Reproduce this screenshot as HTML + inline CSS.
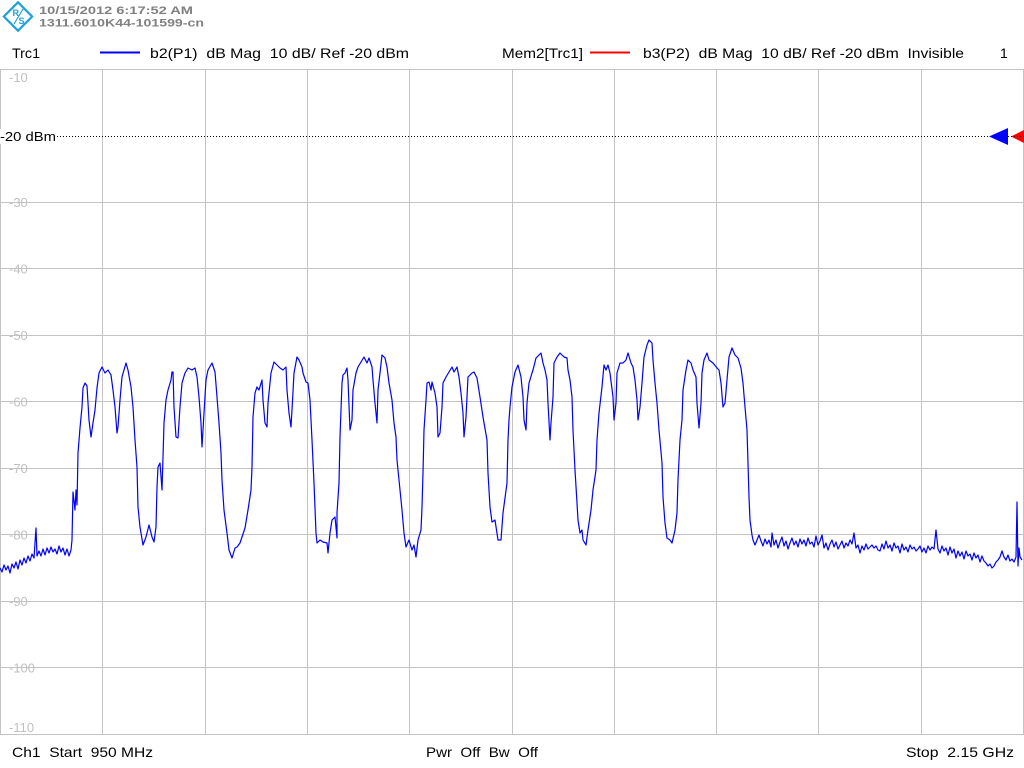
<!DOCTYPE html>
<html><head><meta charset="utf-8"><style>
html,body{margin:0;padding:0;background:#fff;width:1024px;height:768px;overflow:hidden}
svg{display:block}
text{font-family:"Liberation Sans",Tahoma,sans-serif}
</style></head><body>
<svg width="1024" height="768" viewBox="0 0 1024 768" xmlns="http://www.w3.org/2000/svg">
<rect width="1024" height="768" fill="#fff"/>
<!-- logo -->
<g transform="translate(18,16.5) rotate(45)">
<rect x="-10" y="-10" width="20" height="20" fill="#fff" stroke="#1ea0d8" stroke-width="2.2"/>
</g>
<text x="12.5" y="16" font-size="9" fill="#1ea0d8" font-weight="bold">R</text>
<text x="18.5" y="24" font-size="9" fill="#1ea0d8" font-weight="bold">S</text>
<line x1="14" y1="24" x2="23" y2="9" stroke="#1ea0d8" stroke-width="1.2"/>
<text x="39" y="14" font-size="11" font-weight="bold" fill="#808080" textLength="154" lengthAdjust="spacingAndGlyphs">10/15/2012 6:17:52 AM</text>
<text x="39" y="26.5" font-size="11" font-weight="bold" fill="#808080" textLength="165" lengthAdjust="spacingAndGlyphs">1311.6010K44-101599-cn</text>
<!-- legend -->
<text x="12" y="58" font-size="14" fill="#000" textLength="28" lengthAdjust="spacingAndGlyphs">Trc1</text>
<line x1="100" y1="52.5" x2="140" y2="52.5" stroke="#0000ff" stroke-width="2"/>
<text x="150" y="58" font-size="14" fill="#000" textLength="259" lengthAdjust="spacingAndGlyphs" xml:space="preserve">b2(P1)  dB Mag  10 dB/ Ref -20 dBm</text>
<text x="502" y="58" font-size="14" fill="#000" textLength="81" lengthAdjust="spacingAndGlyphs">Mem2[Trc1]</text>
<line x1="590" y1="52.5" x2="630" y2="52.5" stroke="#ff0000" stroke-width="2"/>
<text x="643" y="58" font-size="14" fill="#000" textLength="321" lengthAdjust="spacingAndGlyphs" xml:space="preserve">b3(P2)  dB Mag  10 dB/ Ref -20 dBm  Invisible</text>
<text x="1000" y="58" font-size="14" fill="#000">1</text>
<!-- grid -->
<g stroke="#c4c4c4" stroke-width="1" fill="none">
<line x1="0" y1="69.5" x2="1024" y2="69.5"/>
<line x1="0" y1="202.5" x2="1024" y2="202.5"/>
<line x1="0" y1="268.5" x2="1024" y2="268.5"/>
<line x1="0" y1="335.5" x2="1024" y2="335.5"/>
<line x1="0" y1="401.5" x2="1024" y2="401.5"/>
<line x1="0" y1="468.5" x2="1024" y2="468.5"/>
<line x1="0" y1="534.5" x2="1024" y2="534.5"/>
<line x1="0" y1="601.5" x2="1024" y2="601.5"/>
<line x1="0" y1="667.5" x2="1024" y2="667.5"/>
<line x1="0" y1="734.5" x2="1024" y2="734.5"/>
<line x1="0.5" y1="69" x2="0.5" y2="735"/>
<line x1="102.5" y1="69" x2="102.5" y2="735"/>
<line x1="205.5" y1="69" x2="205.5" y2="735"/>
<line x1="307.5" y1="69" x2="307.5" y2="735"/>
<line x1="409.5" y1="69" x2="409.5" y2="735"/>
<line x1="512.5" y1="69" x2="512.5" y2="735"/>
<line x1="614.5" y1="69" x2="614.5" y2="735"/>
<line x1="716.5" y1="69" x2="716.5" y2="735"/>
<line x1="818.5" y1="69" x2="818.5" y2="735"/>
<line x1="921.5" y1="69" x2="921.5" y2="735"/>
<line x1="1023.5" y1="69" x2="1023.5" y2="735"/>
</g>
<!-- y labels -->
<g font-size="13" fill="#c0c0c0">
<text x="9" y="82">-10</text>
<text x="9" y="207">-30</text>
<text x="9" y="273.5">-40</text>
<text x="9" y="340">-50</text>
<text x="9" y="406.5">-60</text>
<text x="9" y="473">-70</text>
<text x="9" y="539.5">-80</text>
<text x="9" y="606">-90</text>
<text x="9" y="672.5">-100</text>
<text x="9" y="732">-110</text>
</g>
<!-- ref line -->
<line x1="0" y1="136.5" x2="1024" y2="136.5" stroke="#000" stroke-width="1" stroke-dasharray="1,2"/>
<rect x="0" y="129" width="56" height="15" fill="#fff"/>
<text x="0" y="141" font-size="13" fill="#000" textLength="56" lengthAdjust="spacingAndGlyphs">-20 dBm</text>
<polygon points="989,136.5 1008,128 1008,145" fill="#0000ff"/>
<polygon points="1011,136.5 1024,130 1024,143" fill="#ff0000"/>
<line x1="1011" y1="136.5" x2="1024" y2="136.5" stroke="#000" stroke-width="1" stroke-dasharray="1,2"/>
<!-- trace -->
<polyline fill="none" stroke="#0000ff" stroke-width="1.2" stroke-linejoin="round" points="
0,568 2,572 4,565 6,570 8,566 10,573 12,564 14,568 16,562 18,569 20,560 22,565 24,558 26,563 28,556 30,561 32,554 34,558 36,528 37,556 39,551 41,556 43,549 45,555 47,548 49,553 51,547 53,552 55,549 57,554 59,546 61,552 63,548 65,555 67,549 69,556 71,550 72,540
73,492 75,510 76,490 77,505 78,453 80,428 82,407 83,388 85,383 87,386 89,420 91,437 93,423 95,410 97,388 99,373 102,367 105,373 108,370 111,375 113,390 115,407 117,433 118,427 120,400 122,377 124,370 126,363 128,370 131,387 133,407 135,440 137,467 138,507 140,527 143,545 146,537 149,525 152,537 154,542 156,527 157,487 158,467 160,463 162,490 163,457 164,423 166,400 168,390 171,380 172,372 173,372 174,407 176,437 178,438 180,407 182,383 185,373 188,368 192,370 195,368 197,377 199,397 201,423 202,447 204,413 206,380 208,370 212,363 215,372 217,397 219,423 221,453 222,480 224,510 227,533 229,550 232,558 235,548 237,547 240,543 242,537 245,528 248,510 251,490 252,467 253,417 255,393 257,387 259,390 262,380 263,400 265,423 267,427 268,403 271,373 274,362 277,365 280,368 283,370 286,367 287,390 289,413 291,427 292,410 294,373 297,357 299,360 302,367 303,373 306,382 308,383 310,400 312,440 314,483 316,533 317,543 320,540 323,542 327,543 328,553 330,533 332,520 335,517 337,538 337,513 339,483 340,437 342,383 343,375 345,373 347,368 348,380 350,430 352,420 353,390 356,373 358,367 361,362 364,357 367,363 369,358 372,367 373,380 375,403 377,423 378,390 380,373 382,355 385,358 387,367 389,383 392,400 394,423 396,437 397,460 399,480 402,510 404,533 406,547 409,540 412,550 414,545 416,557 418,540 421,530 422,507 423,473 424,430 426,400 427,383 429,382 431,390 432,382 435,393 437,407 438,437 440,433 442,407 443,383 446,377 449,372 452,367 454,372 457,367 459,377 461,393 463,413 464,437 466,417 468,377 472,373 474,372 477,378 480,397 483,417 487,440 488,473 490,507 492,522 495,520 498,540 501,540 503,513 507,483 508,440 509,420 510,407 512,387 515,372 518,365 521,377 523,397 524,420 526,430 527,403 529,383 532,373 533,370 536,358 539,355 541,353 543,363 545,370 547,380 548,403 550,440 551,423 553,397 554,363 557,357 560,353 564,357 567,358 568,370 570,380 572,397 573,430 575,470 577,503 578,520 580,533 582,530 583,540 586,545 588,530 591,510 593,490 596,470 597,440 599,413 602,387 604,365 606,370 608,365 610,373 613,397 614,420 616,403 617,373 620,363 623,363 626,360 628,353 631,363 633,367 635,380 637,400 638,420 640,407 642,383 644,357 647,345 649,340 652,343 653,360 655,383 657,403 659,430 662,463 663,497 665,523 667,538 670,540 672,543 675,530 677,513 678,480 680,440 682,420 683,390 686,370 688,360 691,363 693,370 696,377 697,403 699,428 701,403 702,373 704,360 707,353 709,360 713,363 717,368 719,370 721,383 723,407 725,403 727,380 729,357 732,348 735,355 738,358 741,368 743,383 745,407 747,430 748,463 749,497 750,520 752,535 753,540 755,545 757,540 759,535
761,541 763,546 765,539 767,544 769,540 771,547 772,533 774,545 776,540 778,548 780,542 782,537 784,546 786,541 788,549 790,543 792,538 794,545 796,541 798,547 800,539 802,544 804,540 806,546 808,538 810,544 812,542 814,547 816,536 818,545 820,541 822,535 824,548 826,543 828,550 830,544 832,540 834,547 836,542 838,549 840,545 842,541 844,548 846,543 848,546 850,540 852,544 854,533 856,548 858,545 860,553 862,546 864,550 866,544 868,549 870,547 872,545 874,548 876,546 878,550 880,551 882,544 884,549 886,541 888,548 890,545 892,551 894,543 896,548 898,546 900,553 902,544 904,550 906,547 908,552 910,545 912,549 914,547 916,551 918,549 920,546 922,552 924,548 926,553 928,546 930,550 932,547 934,549 936,530 938,549 940,553 942,546 944,551 946,548 948,555 950,547 952,553 954,549 956,558 958,551 960,556 962,552 964,559 966,551 968,556 970,554 972,560 974,553 976,558 978,555 980,562 982,556 984,561 986,563 988,566 990,564 992,568 994,566 996,562 998,560 1000,557 1002,551 1004,557 1006,560 1008,555 1010,561 1012,559 1014,562 1016,557 1017,502 1018,566 1019,548 1020,557 1022,560"/>
<!-- footer -->
<text x="12" y="757" font-size="14" fill="#000" textLength="141" lengthAdjust="spacingAndGlyphs" xml:space="preserve">Ch1  Start  950 MHz</text>
<text x="426" y="757" font-size="14" fill="#000" textLength="112" lengthAdjust="spacingAndGlyphs" xml:space="preserve">Pwr  Off  Bw  Off</text>
<text x="906" y="757" font-size="14" fill="#000" textLength="108" lengthAdjust="spacingAndGlyphs" xml:space="preserve">Stop  2.15 GHz</text>
</svg>
</body></html>
